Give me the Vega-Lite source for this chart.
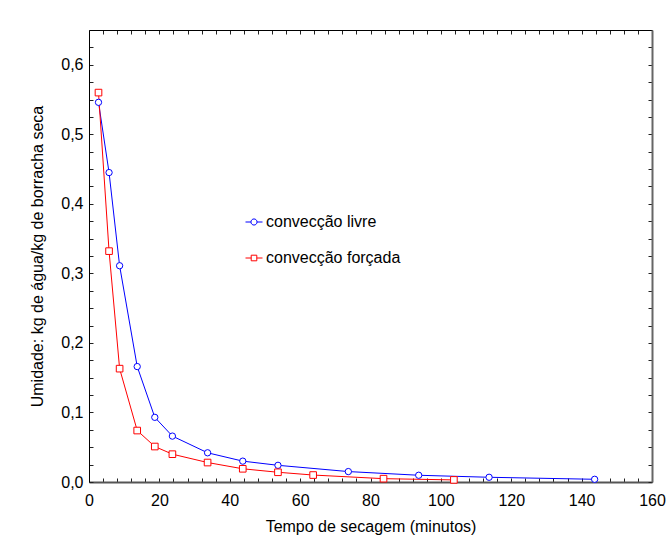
{
  "$schema": "https://vega.github.io/schema/vega-lite/v6.json",
  "width": 563,
  "height": 452,
  "autosize": {"type": "none"},
  "padding": {"left": 89, "top": 30, "right": 19, "bottom": 66},
  "background": "white",
  "config": {
    "font": "Liberation Sans",
    "view": {"stroke": null},
    "axis": {"grid": false, "labelFont": "Liberation Sans", "titleFont": "Liberation Sans", "labelFontSize": 16, "titleFontSize": 16, "titleFontWeight": "normal", "labelColor": "black", "titleColor": "black", "tickColor": "#222", "labelOverlap": false, "labelFlush": false}
  },
  "data": {
    "values": [
      {"t": 2.7, "u": 0.546, "serie": "convecção livre"},
      {"t": 5.7, "u": 0.445, "serie": "convecção livre"},
      {"t": 8.7, "u": 0.311, "serie": "convecção livre"},
      {"t": 13.7, "u": 0.166, "serie": "convecção livre"},
      {"t": 18.7, "u": 0.093, "serie": "convecção livre"},
      {"t": 23.7, "u": 0.066, "serie": "convecção livre"},
      {"t": 33.7, "u": 0.042, "serie": "convecção livre"},
      {"t": 43.7, "u": 0.030, "serie": "convecção livre"},
      {"t": 53.7, "u": 0.024, "serie": "convecção livre"},
      {"t": 73.7, "u": 0.015, "serie": "convecção livre"},
      {"t": 93.7, "u": 0.0097, "serie": "convecção livre"},
      {"t": 113.7, "u": 0.0068, "serie": "convecção livre"},
      {"t": 143.7, "u": 0.0039, "serie": "convecção livre"},
      {"t": 2.7, "u": 0.560, "serie": "convecção forçada"},
      {"t": 5.7, "u": 0.332, "serie": "convecção forçada"},
      {"t": 8.7, "u": 0.163, "serie": "convecção forçada"},
      {"t": 13.7, "u": 0.074, "serie": "convecção forçada"},
      {"t": 18.7, "u": 0.051, "serie": "convecção forçada"},
      {"t": 23.7, "u": 0.040, "serie": "convecção forçada"},
      {"t": 33.7, "u": 0.028, "serie": "convecção forçada"},
      {"t": 43.7, "u": 0.019, "serie": "convecção forçada"},
      {"t": 53.7, "u": 0.014, "serie": "convecção forçada"},
      {"t": 63.7, "u": 0.010, "serie": "convecção forçada"},
      {"t": 83.7, "u": 0.0048, "serie": "convecção forçada"},
      {"t": 103.7, "u": 0.003, "serie": "convecção forçada"}
    ]
  },
  "layer": [
    {
      "mark": {"type": "line", "strokeWidth": 1, "clip": true},
      "encoding": {
        "x": {"field": "t", "type": "quantitative", "scale": {"domain": [0, 160], "nice": false},
          "axis": {"orient": "bottom", "title": "Tempo de secagem (minutos)", "values": [0,4,8,12,16,20,24,28,32,36,40,44,48,52,56,60,64,68,72,76,80,84,88,92,96,100,104,108,112,116,120,124,128,132,136,140,144,148,152,156,160],
            "labelExpr": "datum.value % 20 === 0 ? format(datum.value, 'd') : ''", "tickSize": -4, "labelPadding": 14, "titlePadding": 10, "domainColor": "#555", "domainWidth": 2}},
        "y": {"field": "u", "type": "quantitative", "scale": {"domain": [0, 0.65], "nice": false},
          "axis": {"orient": "left", "title": "Umidade: kg de água/kg de borracha seca", "values": [0,0.025,0.05,0.075,0.1,0.125,0.15,0.175,0.2,0.225,0.25,0.275,0.3,0.325,0.35,0.375,0.4,0.425,0.45,0.475,0.5,0.525,0.55,0.575,0.6,0.625],
            "labelExpr": "abs(datum.value*10 - round(datum.value*10)) < 0.001 ? replace(format(datum.value, '.1f'), '.', ',') : ''", "tickSize": -4, "labelPadding": 10, "titlePadding": 15, "domainColor": "black", "domainWidth": 1}},
        "color": {"field": "serie", "type": "nominal", "sort": ["convecção livre", "convecção forçada"],
          "scale": {"domain": ["convecção livre", "convecção forçada"], "range": ["#0000ff", "#ff0000"]},
          "legend": {"orient": "none", "legendX": 156, "legendY": 183, "title": null, "symbolSize": 289, "labelFontSize": 16, "labelFont": "Liberation Sans", "labelColor": "black", "rowPadding": 19, "labelOffset": 3, "symbolStrokeWidth": 1,
            "encode": {"symbols": {"update": {"shape": {"signal": "datum.value === 'convecção livre' ? 'M-1,0H-0.36M0.36,0H1M0.36,0A0.36,0.36 0 1,1 -0.36,0A0.36,0.36 0 1,1 0.36,0Z' : 'M-1,0H-0.33M0.33,0H1M-0.33,-0.33H0.33V0.33H-0.33Z'"}, "strokeWidth": {"value": 1}, "fill": {"value": "transparent"}}}}}}
      }
    },
    {
      "transform": [{"filter": "datum.serie === 'convecção livre'"}],
      "mark": {"type": "point", "shape": "circle", "filled": true, "fill": "white", "stroke": "#0000ff", "strokeWidth": 1, "size": 40, "opacity": 1},
      "encoding": {
        "x": {"field": "t", "type": "quantitative",
          "axis": {"orient": "top", "title": null, "labels": false, "values": [0,4,8,12,16,20,24,28,32,36,40,44,48,52,56,60,64,68,72,76,80,84,88,92,96,100,104,108,112,116,120,124,128,132,136,140,144,148,152,156,160], "tickSize": -4, "domainColor": "black", "domainWidth": 1}},
        "y": {"field": "u", "type": "quantitative",
          "axis": {"orient": "right", "title": null, "labels": false, "values": [0,0.025,0.05,0.075,0.1,0.125,0.15,0.175,0.2,0.225,0.25,0.275,0.3,0.325,0.35,0.375,0.4,0.425,0.45,0.475,0.5,0.525,0.55,0.575,0.6,0.625], "tickSize": -4, "domainColor": "#666", "domainWidth": 2}}
      }
    },
    {
      "transform": [{"filter": "datum.serie === 'convecção forçada'"}],
      "mark": {"type": "point", "shape": "square", "filled": true, "fill": "white", "stroke": "#ff0000", "strokeWidth": 1, "size": 44, "opacity": 1},
      "encoding": {
        "x": {"field": "t", "type": "quantitative", "axis": null},
        "y": {"field": "u", "type": "quantitative", "axis": null}
      }
    }
  ]
}
